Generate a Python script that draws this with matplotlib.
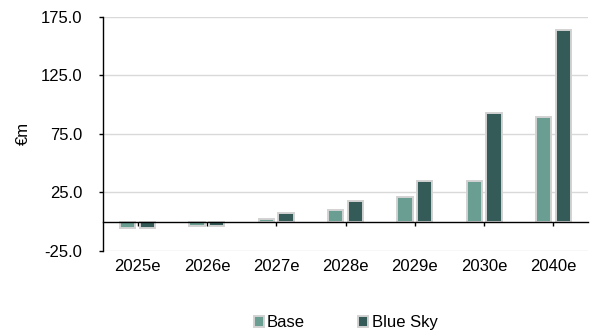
import matplotlib
matplotlib.use("Agg")
import matplotlib.pyplot as plt
import numpy as np

plt.rcParams['font.family'] = ['Liberation Sans', 'DejaVu Sans']

categories = ["2025e", "2026e", "2027e", "2028e", "2029e", "2030e", "2040e"]
base = [-5.0, -4.0, 2.2, 10.0, 20.8, 34.5, 89.7]
blue_sky = [-5.5, -4.0, 7.5, 17.7, 34.5, 92.6, 163.5]
y_ticks = [-25, 25, 75, 125, 175]

base_color = "#6a9e93"
sky_color = "#355b58"
edge_color = "#d2d2d2"
fs = 12

fig = plt.figure(figsize=(5.93, 3.31), dpi=100)
ax = fig.add_axes([103/593, 1 - 251/331, (588 - 103)/593, (251 - 16.7)/331])

x = np.arange(len(categories))
w = 0.22
off = 0.142
ax.bar(x - off, base, width=w, color=base_color, edgecolor=edge_color,
       linewidth=1.4, label="Base", zorder=3)
ax.bar(x + off, blue_sky, width=w, color=sky_color, edgecolor=edge_color,
       linewidth=1.4, label="Blue Sky", zorder=3)

ax.set_xlim(-0.5, len(categories) - 0.5)
ax.set_ylim(-25, 175)
ax.set_yticks(y_ticks)
ax.set_yticklabels([f"{v:.1f}" for v in y_ticks], fontsize=fs)
ax.grid(axis='y', color="#d9d9d9", linewidth=1.0, zorder=0)
ax.set_axisbelow(True)

for s in ['top', 'right']:
    ax.spines[s].set_visible(False)
ax.spines['left'].set_color('black')
ax.spines['left'].set_linewidth(1.0)
ax.spines['bottom'].set_position(('data', 0))
ax.spines['bottom'].set_color('black')
ax.spines['bottom'].set_linewidth(1.0)
ax.spines['bottom'].set_zorder(4)

ax.set_xticks(x)
ax.set_xticklabels(categories, fontsize=fs)
ax.tick_params(axis='x', length=3, width=1.0, direction='out', pad=24)
ax.tick_params(axis='y', length=3, width=1.0, direction='out', pad=12)

ax.set_ylabel("€m", fontsize=fs, labelpad=7)

ax.legend(loc='upper center', bbox_to_anchor=(0.5, -0.21), ncol=2,
          frameon=False, fontsize=fs, handlelength=0.6, handleheight=0.6,
          handletextpad=0.2, columnspacing=3.2)

fig.savefig("out.png", dpi=100)
